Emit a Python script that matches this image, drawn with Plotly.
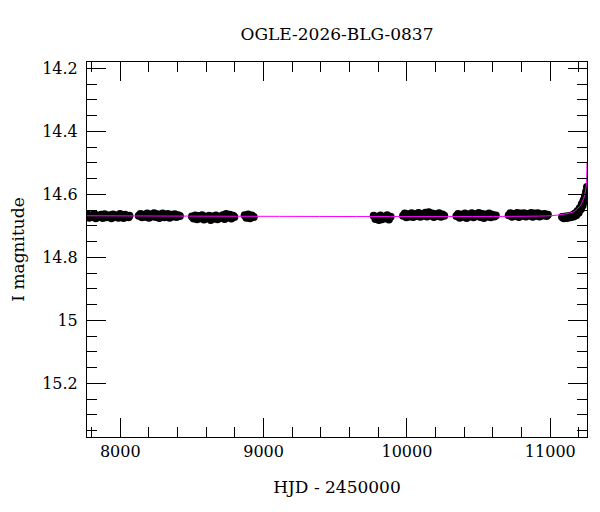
import plotly.graph_objects as go

# ---- data ----
hjd_s1 = [7771, 7783, 7794, 7806, 7819, 7830, 7842, 7855, 7866, 7878, 7891, 7903, 7914,
          7926, 7939, 7950, 7962, 7975, 7987, 7998, 8010, 8023, 8034, 8046, 8058, 8064]
mag_s1 = [14.664, 14.674, 14.667, 14.672, 14.662, 14.676, 14.668, 14.671, 14.665, 14.675,
          14.663, 14.673, 14.669, 14.666, 14.676, 14.664, 14.672, 14.667, 14.674, 14.662,
          14.671, 14.675, 14.665, 14.670, 14.673, 14.668]

hjd_s2 = [8129, 8141, 8152, 8165, 8177, 8188, 8200, 8213, 8224, 8236, 8249, 8260, 8272,
          8285, 8296, 8308, 8321, 8332, 8344, 8357, 8368, 8380, 8393, 8404, 8416]
mag_s2 = [14.668, 14.662, 14.673, 14.665, 14.671, 14.661, 14.674, 14.664, 14.670, 14.660,
          14.672, 14.663, 14.675, 14.666, 14.661, 14.673, 14.667, 14.662, 14.674, 14.665,
          14.670, 14.663, 14.672, 14.666, 14.669]

hjd_s3 = [8500, 8512, 8523, 8536, 8548, 8559, 8571, 8584, 8595, 8607, 8620, 8631, 8643,
          8656, 8667, 8679, 8692, 8703, 8715, 8728, 8739, 8751, 8764, 8775, 8787, 8796]
mag_s3 = [14.670, 14.677, 14.667, 14.679, 14.669, 14.676, 14.666, 14.680, 14.671, 14.674,
          14.668, 14.681, 14.670, 14.677, 14.667, 14.679, 14.671, 14.675, 14.666, 14.678,
          14.662, 14.673, 14.665, 14.677, 14.668, 14.672]

hjd_s4 = [8868, 8880, 8893, 8905, 8918, 8931]
mag_s4 = [14.666, 14.674, 14.664, 14.676, 14.667, 14.672]

hjd_s5 = [9768, 9780, 9792, 9804, 9815, 9826, 9838, 9851, 9862, 9874, 9886]
mag_s5 = [14.668, 14.678, 14.672, 14.681, 14.667, 14.679, 14.673, 14.676, 14.666, 14.680,
          14.671]

hjd_s6 = [9973, 9985, 9996, 10009, 10021, 10032, 10044, 10057, 10068, 10080, 10093, 10104,
          10116, 10129, 10140, 10152, 10165, 10176, 10188, 10201, 10212, 10224, 10237,
          10248, 10260]
mag_s6 = [14.668, 14.661, 14.673, 14.664, 14.670, 14.660, 14.672, 14.663, 14.669, 14.659,
          14.671, 14.662, 14.668, 14.658, 14.670, 14.657, 14.667, 14.661, 14.672, 14.663,
          14.669, 14.660, 14.671, 14.664, 14.668]

hjd_s7 = [10345, 10357, 10368, 10381, 10393, 10404, 10416, 10429, 10440, 10452, 10465,
          10476, 10488, 10501, 10512, 10524, 10537, 10548, 10560, 10573, 10584, 10596,
          10609, 10620]
mag_s7 = [14.669, 14.662, 14.674, 14.665, 14.671, 14.661, 14.675, 14.664, 14.670, 14.660,
          14.673, 14.663, 14.669, 14.659, 14.672, 14.662, 14.675, 14.664, 14.670, 14.661,
          14.673, 14.665, 14.670, 14.667]

hjd_s8 = [10710, 10722, 10733, 10746, 10758, 10769, 10781, 10794, 10805, 10817, 10830,
          10841, 10853, 10866, 10877, 10889, 10902, 10913, 10925, 10938, 10949, 10961,
          10974, 10983]
mag_s8 = [14.666, 14.660, 14.671, 14.662, 14.669, 14.659, 14.672, 14.661, 14.668, 14.660,
          14.670, 14.662, 14.667, 14.659, 14.671, 14.661, 14.668, 14.660, 14.670, 14.663,
          14.667, 14.662, 14.669, 14.665]

hjd_s9 = [11082, 11094, 11106, 11118, 11130, 11142, 11152, 11163, 11172, 11181, 11190,
          11198, 11206, 11213, 11220, 11226, 11232, 11237, 11242, 11246, 11250, 11253,
          11256]
mag_s9 = [14.672, 14.676, 14.670, 14.675, 14.669, 14.673, 14.666, 14.670, 14.661, 14.666,
          14.653, 14.658, 14.643, 14.647, 14.631, 14.635, 14.619, 14.622, 14.605, 14.608,
          14.592, 14.590, 14.577]

model_hjd = [7768, 11000, 11094, 11166, 11212, 11236, 11250, 11256]
model_mag = [14.668, 14.668, 14.663, 14.655, 14.634, 14.608, 14.575, 14.50]

y_tickvals = [14.2, 14.4, 14.6, 14.8, 15.0, 15.2]
y_ticktext = ["14.2", "14.4", "14.6", "14.8", "15", "15.2"]
x_tickvals = [8000, 9000, 10000, 11000]
x_ticktext = ["8000", "9000", "10000", "11000"]

title_text = "OGLE-2026-BLG-0837"
x_title = "HJD - 2450000"
y_title = "I magnitude"

# ---- figure ----
obs_hjd = hjd_s1 + hjd_s2 + hjd_s3 + hjd_s4 + hjd_s5 + hjd_s6 + hjd_s7 + hjd_s8 + hjd_s9
obs_mag = mag_s1 + mag_s2 + mag_s3 + mag_s4 + mag_s5 + mag_s6 + mag_s7 + mag_s8 + mag_s9

FONT = "DejaVu Serif"

fig = go.Figure()
fig.add_trace(go.Scatter(x=obs_hjd, y=obs_mag, mode="markers",
                         marker=dict(color="black", size=8, line=dict(width=0)),
                         showlegend=False, hoverinfo="skip"))
fig.add_trace(go.Scatter(x=model_hjd, y=model_mag, mode="lines",
                         line=dict(color="#ff00ff", width=1, shape="spline", smoothing=0.6),
                         showlegend=False, hoverinfo="skip"))

axis_common = dict(
    showline=True, linecolor="black", linewidth=1, mirror="allticks",
    ticks="inside", ticklen=19, tickwidth=1, tickcolor="black",
    showgrid=False, zeroline=False, automargin=False,
    tickfont=dict(family=FONT, size=16, color="black"),
)

fig.update_xaxes(
    range=[7768, 11256], tickmode="array", tickvals=x_tickvals, ticktext=x_ticktext,
    minor=dict(dtick=200, tick0=8000, ticks="inside", ticklen=10, tickcolor="black",
               tickwidth=1, showgrid=False),
    ticklabelstandoff=0,
    title=dict(text=x_title, font=dict(family=FONT, size=17, color="black"), standoff=20),
    **axis_common,
)
fig.update_yaxes(
    range=[15.37, 14.18], tickmode="array", tickvals=y_tickvals, ticktext=y_ticktext,
    minor=dict(dtick=0.05, tick0=14.2, ticks="inside", ticklen=10, tickcolor="black",
               tickwidth=1, showgrid=False),
    ticklabelstandoff=5,
    title=dict(text=y_title, font=dict(family=FONT, size=17, color="black"), standoff=20),
    **axis_common,
)

fig.update_layout(
    width=600, height=512,
    margin=dict(l=79, r=21, t=54, b=83),
    paper_bgcolor="white", plot_bgcolor="white",
    title=dict(text=title_text, x=(337 - 8) / 600, xref="container", y=1 - 26 / 512,
               yref="container", xanchor="center", yanchor="middle",
               font=dict(family=FONT, size=17, color="black")),
)

fig.write_html("out.html")
